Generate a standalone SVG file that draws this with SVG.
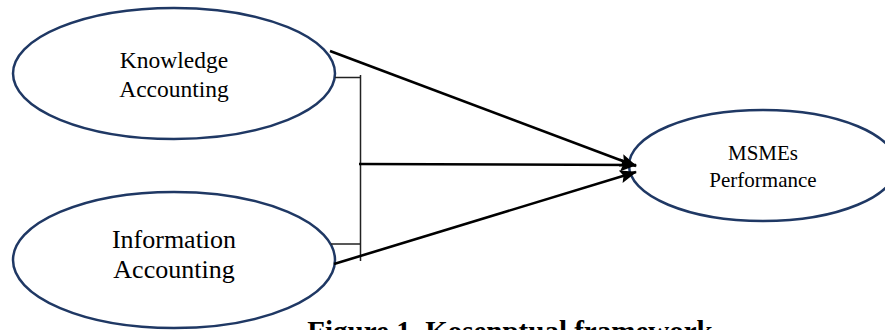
<svg xmlns="http://www.w3.org/2000/svg" width="885" height="330" viewBox="0 0 885 330">
<style>
.node ellipse{fill:#fff;stroke:#1f3864;stroke-width:2.5}
.lbl{font-family:"Liberation Serif","Times New Roman",serif;fill:#000;text-anchor:middle}
.arr{stroke:#000;stroke-width:2.6;fill:none}
.brk{stroke:#222;stroke-width:1.5;fill:none}
</style>
<defs>
<marker id="ah" markerWidth="17" markerHeight="13" refX="16" refY="6.5" orient="auto" markerUnits="userSpaceOnUse">
<path d="M0,0 L17,6.5 L0,13 L3,6.5 Z" fill="#000"/>
</marker>
</defs>
<rect width="885" height="330" fill="#fff"/>
<g id="node-knowledge" class="node">
<ellipse cx="174" cy="73.5" rx="161" ry="65.5"/>
<text class="lbl" x="174" y="68" font-size="23.5">Knowledge</text>
<text class="lbl" x="174" y="97" font-size="23.5">Accounting</text>
</g>
<g id="node-information" class="node">
<ellipse cx="174" cy="260" rx="161" ry="68"/>
<text class="lbl" x="174" y="248" font-size="26">Information</text>
<text class="lbl" x="174" y="278" font-size="26">Accounting</text>
</g>
<g id="node-msmes" class="node">
<ellipse cx="763" cy="165.5" rx="134" ry="55.5"/>
<text class="lbl" x="763" y="160" font-size="21">MSMEs</text>
<text class="lbl" x="763" y="187" font-size="21">Performance</text>
</g>
<g id="connectors">
<path class="brk" d="M335,77.5 H361 M331,244 H361 M360.5,75 V261"/>
<path class="arr" d="M330,51 L636,166" marker-end="url(#ah)"/>
<path class="arr" d="M359,164 L636,165" marker-end="url(#ah)"/>
<path class="arr" d="M334,264 L636,172" marker-end="url(#ah)"/>
</g>
<text x="510" y="341" font-family="'Liberation Serif','Times New Roman',serif" font-size="29" font-weight="bold" text-anchor="middle">Figure 1. Kosenptual framework</text>
</svg>
